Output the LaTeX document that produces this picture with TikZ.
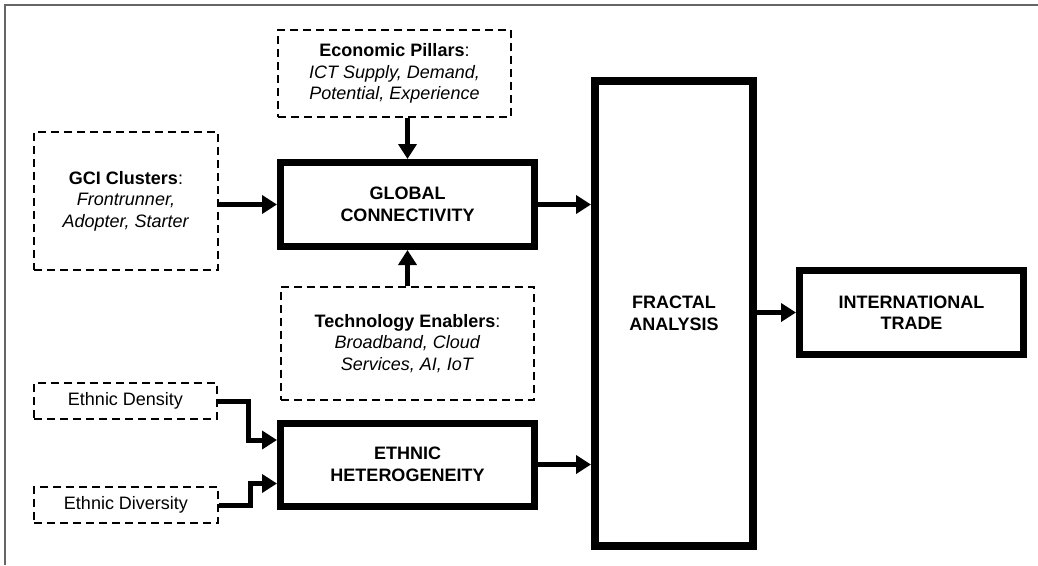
\documentclass[tikz,border=0pt]{standalone}
\usepackage{fontspec}
\setmainfont{Liberation Sans}
\usetikzlibrary{arrows.meta,positioning,calc}
\newcommand{\bigtext}{\fontsize{18}{21.5}\selectfont}
\tikzset{
	dashbox/.style={draw, dash pattern=on 8pt off 5pt, line width=2pt, inner sep=0, align=center},
	thickbox/.style={draw, line width=7pt, inner sep=0, align=center, font=\bigtext\bfseries},
	flow/.style={-{Triangle[length=15pt,width=18pt]}, line width=5pt}
}

\begin{document}
\begin{tikzpicture}[x=1pt, y=-1pt, font=\bigtext]
	\useasboundingbox (0,0) rectangle (1038,565);
	\draw[gray!80!black, line width=2pt] (5,565) -- (5,5) -- (1038,5);
	% input boxes
	\node[dashbox, minimum width=233pt, minimum height=87pt] (econ) at (394.5,73.5) {\textbf{Economic Pillars}:\\ \textit{ICT Supply, Demand,}\\ \textit{Potential, Experience}};
	\node[dashbox, minimum width=184pt, minimum height=138pt] (gci) at (126,201) {\textbf{GCI Clusters}:\\ \textit{Frontrunner,}\\ \textit{Adopter, Starter}};
	\node[dashbox, minimum width=253pt, minimum height=113pt] (tech) at (407.5,343.5) {\textbf{Technology Enablers}:\\ \textit{Broadband, Cloud}\\ \textit{Services, AI, IoT}};
	\node[dashbox, minimum width=183pt, minimum height=36pt] (dens) at (125.5,401) {Ethnic Density};
	\node[dashbox, minimum width=184pt, minimum height=36pt] (divs) at (126,505) {Ethnic Diversity};
	% main boxes
	\node[thickbox, minimum width=254pt, minimum height=84pt] (glob) at (407.5,204.5) {GLOBAL\\ CONNECTIVITY};
	\node[thickbox, minimum width=254pt, minimum height=83pt] (eth) at (407.5,464.5) {ETHNIC\\ HETEROGENEITY};
	\node[thickbox, line width=8pt, minimum width=158pt, minimum height=465pt] (frac) at (674,313.5) {FRACTAL\\ ANALYSIS};
	\node[thickbox, minimum width=224pt, minimum height=84pt] (trade) at (911.5,312.5) {INTERNATIONAL\\ TRADE};
	% arrows
	\draw[flow] (econ.south -| glob.north) -- (glob.north);
	\draw[flow] (tech.north -| glob.south) -- (glob.south);
	\draw[flow] (gci.east |- glob.west) -- (glob.west);
	\draw[flow] (glob.east) -- (glob.east -| frac.west);
	\draw[flow] (eth.east) -- (eth.east -| frac.west);
	\draw[flow] (frac.east |- trade.west) -- (trade.west);
	\draw[flow] (dens.east) -- ++(30,0) |- ($(eth.west)+(0,-24.5)$);
	\draw[flow] (divs.east) -- ++(31,0) |- ($(eth.west)+(0,19)$);
\end{tikzpicture}
\end{document}
